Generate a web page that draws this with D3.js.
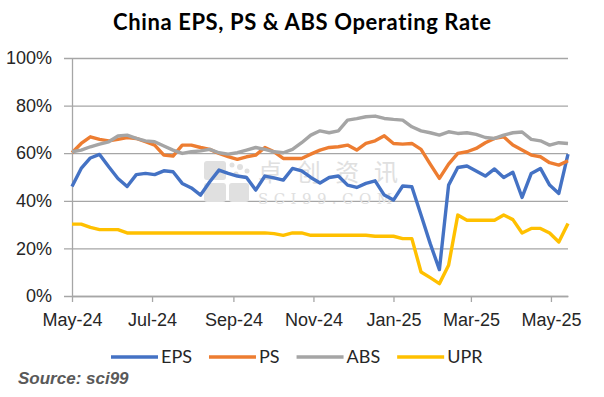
<!DOCTYPE html>
<html>
<head>
<meta charset="utf-8">
<script src="https://cdn.jsdelivr.net/npm/d3@7"></script>
<style>
  body { margin: 0; background: #fff; }
  #chart { width: 604px; height: 397px; }
  svg text { font-variant-ligatures: none; }
</style>
</head>
<body>
<div id="chart"></div>
<script>
// weekly readings, May-24 .. mid May-25
const dates = [
  '2024-05-01', '2024-05-08', '2024-05-15', '2024-05-22', '2024-05-29',
  '2024-06-05', '2024-06-12', '2024-06-19', '2024-06-26',
  '2024-07-03', '2024-07-10', '2024-07-17', '2024-07-24', '2024-07-31',
  '2024-08-07', '2024-08-14', '2024-08-21', '2024-08-28',
  '2024-09-04', '2024-09-11', '2024-09-18', '2024-09-25',
  '2024-10-02', '2024-10-09', '2024-10-16', '2024-10-23', '2024-10-30',
  '2024-11-06', '2024-11-13', '2024-11-20', '2024-11-27',
  '2024-12-04', '2024-12-11', '2024-12-18', '2024-12-25',
  '2025-01-01', '2025-01-08', '2025-01-15', '2025-01-22', '2025-01-29',
  '2025-02-05', '2025-02-12', '2025-02-19', '2025-02-26',
  '2025-03-05', '2025-03-12', '2025-03-19', '2025-03-26',
  '2025-04-02', '2025-04-09', '2025-04-16', '2025-04-23', '2025-04-30',
  '2025-05-07', '2025-05-14',
];

const eps = [
  46, 53.6, 58, 59.5, 54.3, 49.4, 46, 51, 51.5, 51,
  52.6, 52.2, 47.3, 45.4, 42.4, 48, 52.9, 51.5, 50.4, 49.8,
  44.5, 50.4, 49.6, 48.7, 53.6, 52.6, 49.8, 47.5, 49.8, 50.4,
  46.6, 45.6, 47.3, 48.4, 42.4, 40.3, 46.2, 45.9, 34, 22,
  11.1, 46.6, 54, 54.6, 52.5, 50.4, 53.4, 49.8, 52, 41.4,
  51.5, 53.6, 46.6, 43.1, 59.6,
];

const ps = [
  60.2, 64.1, 66.9, 65.8, 65.2, 65.8, 66.6, 66.2, 64.8, 63.4,
  59.2, 58.8, 63.4, 63.4, 62.4, 61.6, 59.9, 58.6, 57.4, 58.5,
  59.2, 62.4, 60.6, 57.8, 57.8, 57.8, 59.6, 61.3, 62.4, 62.7,
  63.4, 61.3, 64.1, 65.2, 67.3, 64.1, 63.8, 64.1, 61.6, 55.4,
  49.4, 55.4, 59.9, 60.6, 62, 64.4, 66.2, 66.9, 63.4, 61.3,
  59.2, 58.5, 56, 55, 56.8,
];

const abs = [
  60.6, 61.3, 62.7, 63.8, 64.8, 67.2, 67.6, 66.2, 65.2, 64.8,
  63, 61.3, 59.9, 60.6, 61, 61.6, 60.2, 59.6, 60.2, 61.3,
  62.4, 61.6, 60.6, 60.2, 61.6, 64.4, 67.6, 69.4, 68.6, 69.4,
  73.9, 74.5, 75.3, 75.6, 74.6, 74.2, 73.9, 71.1, 69.4, 68.6,
  67.6, 69, 68.3, 68.6, 67.9, 66.6, 66.2, 67.6, 68.6, 68.9,
  65.8, 65.2, 63.4, 64.4, 64.1,
];

const upr = [
  30.2, 30.2, 28.8, 27.9, 27.9, 27.9, 26.5, 26.5, 26.5, 26.5,
  26.5, 26.5, 26.5, 26.5, 26.5, 26.5, 26.5, 26.5, 26.5, 26.5,
  26.5, 26.5, 26.2, 25.5, 26.5, 26.5, 25.5, 25.5, 25.5, 25.5,
  25.5, 25.5, 25.5, 25.1, 25.1, 25.1, 24.1, 24.1, 10.1, 7.7,
  5.2, 12.9, 34, 31.8, 31.8, 31.8, 31.8, 34, 32.1, 26.5,
  28.4, 28.4, 26.5, 22.7, 30.5,
];

const seriesNames = ['EPS', 'PS', 'ABS', 'UPR'];
const seriesValues = [eps, ps, abs, upr];
const seriesColors = ['#4472C4', '#ED7D31', '#A5A5A5', '#FFC000'];
const yTicks = [0, 20, 40, 60, 80, 100];

const width = 604;
const height = 397;
const margin = { top: 58, right: 36, bottom: 101, left: 72 };

const parse = d3.timeParse('%Y-%m-%d');
const days = dates.map(parse);

const svg = d3.select('#chart')
  .append('svg')
  .attr('width', width)
  .attr('height', height)
  .style('font-family', 'Lato, "Open Sans", sans-serif');

const x = d3.scaleTime()
  .domain(d3.extent(days))
  .range([margin.left, width - margin.right]);

const y = d3.scaleLinear()
  .domain([0, 100])
  .range([height - margin.bottom, margin.top]);

// title
svg.append('text')
  .attr('x', width / 2)
  .attr('y', 30)
  .attr('text-anchor', 'middle')
  .attr('font-size', 22)
  .attr('font-weight', 'bold')
  .attr('fill', '#000')
  .attr('textLength', 378)
  .attr('lengthAdjust', 'spacing')
  .text('China EPS, PS & ABS Operating Rate');

// gridlines + y axis
const yAxis = svg.append('g')
  .attr('transform', `translate(${margin.left}, 0)`)
  .call(d3.axisLeft(y)
    .tickValues(yTicks)
    .tickFormat((d) => d + '%')
    .tickSizeInner(-(width - margin.left - margin.right))
    .tickSizeOuter(0)
    .tickPadding(20));

yAxis.select('.domain')
  .attr('stroke', '#a6a6a6')
  .attr('stroke-width', 1.3);

yAxis.selectAll('.tick line')
  .attr('x1', -8)
  .attr('stroke', '#a6a6a6')
  .attr('stroke-width', 1.3);

yAxis.selectAll('.tick text')
  .attr('font-size', 18)
  .attr('fill', '#262626');

// x axis
const xAxis = svg.append('g')
  .attr('transform', `translate(0, ${y(0)})`)
  .call(d3.axisBottom(x)
    .ticks(d3.timeMonth.every(2))
    .tickFormat(d3.timeFormat('%b-%y'))
    .tickSizeInner(6)
    .tickSizeOuter(0)
    .tickPadding(11));

xAxis.select('.domain')
  .attr('stroke', '#a6a6a6')
  .attr('stroke-width', 1.3);

xAxis.selectAll('.tick line')
  .attr('stroke', '#a6a6a6')
  .attr('stroke-width', 1.3);

xAxis.selectAll('.tick text')
  .attr('font-size', 18)
  .attr('fill', '#262626');

// watermark
const mark = svg.append('g')
  .attr('fill', '#e0e0e0');

mark.append('rect').attr('x', 204).attr('y', 161).attr('width', 22).attr('height', 19).attr('rx', 3);
mark.append('rect').attr('x', 204).attr('y', 183).attr('width', 22).attr('height', 19).attr('rx', 3);
mark.append('rect').attr('x', 229).attr('y', 183).attr('width', 20).attr('height', 19).attr('rx', 3);
mark.selectAll('circle.dot')
  .data([[232, 165, 2.5], [240, 167, 3], [247, 171, 2.5], [236, 174, 2.5], [245, 177, 2]])
  .join('circle')
  .attr('cx', (d) => d[0])
  .attr('cy', (d) => d[1])
  .attr('r', (d) => d[2]);

mark.append('text')
  .attr('x', 258)
  .attr('y', 181)
  .attr('font-size', 24)
  .attr('font-family', '"Noto Sans CJK SC"')
  .attr('textLength', 140)
  .text('卓创资讯');

mark.append('text')
  .attr('x', 258)
  .attr('y', 204)
  .attr('font-size', 15)
  .attr('font-family', '"DejaVu Serif", "Liberation Serif", serif')
  .attr('textLength', 134)
  .text('SCI99.COM');

// series lines
const line = d3.line()
  .x((d, i) => x(days[i]))
  .y((d) => y(d));

svg.append('g')
  .selectAll('path')
  .data(seriesValues)
  .join('path')
  .attr('fill', 'none')
  .attr('stroke', (d, i) => seriesColors[i])
  .attr('stroke-width', 3.4)
  .attr('stroke-linejoin', 'round')
  .attr('d', line);

// legend
const legend = svg.append('g')
  .attr('transform', 'translate(0, 357)');

let lx = 111;
seriesNames.forEach((name, i) => {
  legend.append('line')
    .attr('x1', lx)
    .attr('x2', lx + 47)
    .attr('stroke', seriesColors[i])
    .attr('stroke-width', 3.4);

  const label = legend.append('text')
    .attr('x', lx + 50)
    .attr('y', 6)
    .attr('font-size', 18)
    .attr('fill', '#262626')
    .text(name);

  lx += 50 + label.node().getComputedTextLength() + 17;
});

// source note
svg.append('text')
  .attr('x', 18)
  .attr('y', 384)
  .attr('font-family', '"Liberation Sans", Arial, sans-serif')
  .attr('font-size', 17)
  .attr('font-weight', 'bold')
  .attr('font-style', 'italic')
  .attr('fill', '#595959')
  .text('Source: sci99');
</script>
</body>
</html>
